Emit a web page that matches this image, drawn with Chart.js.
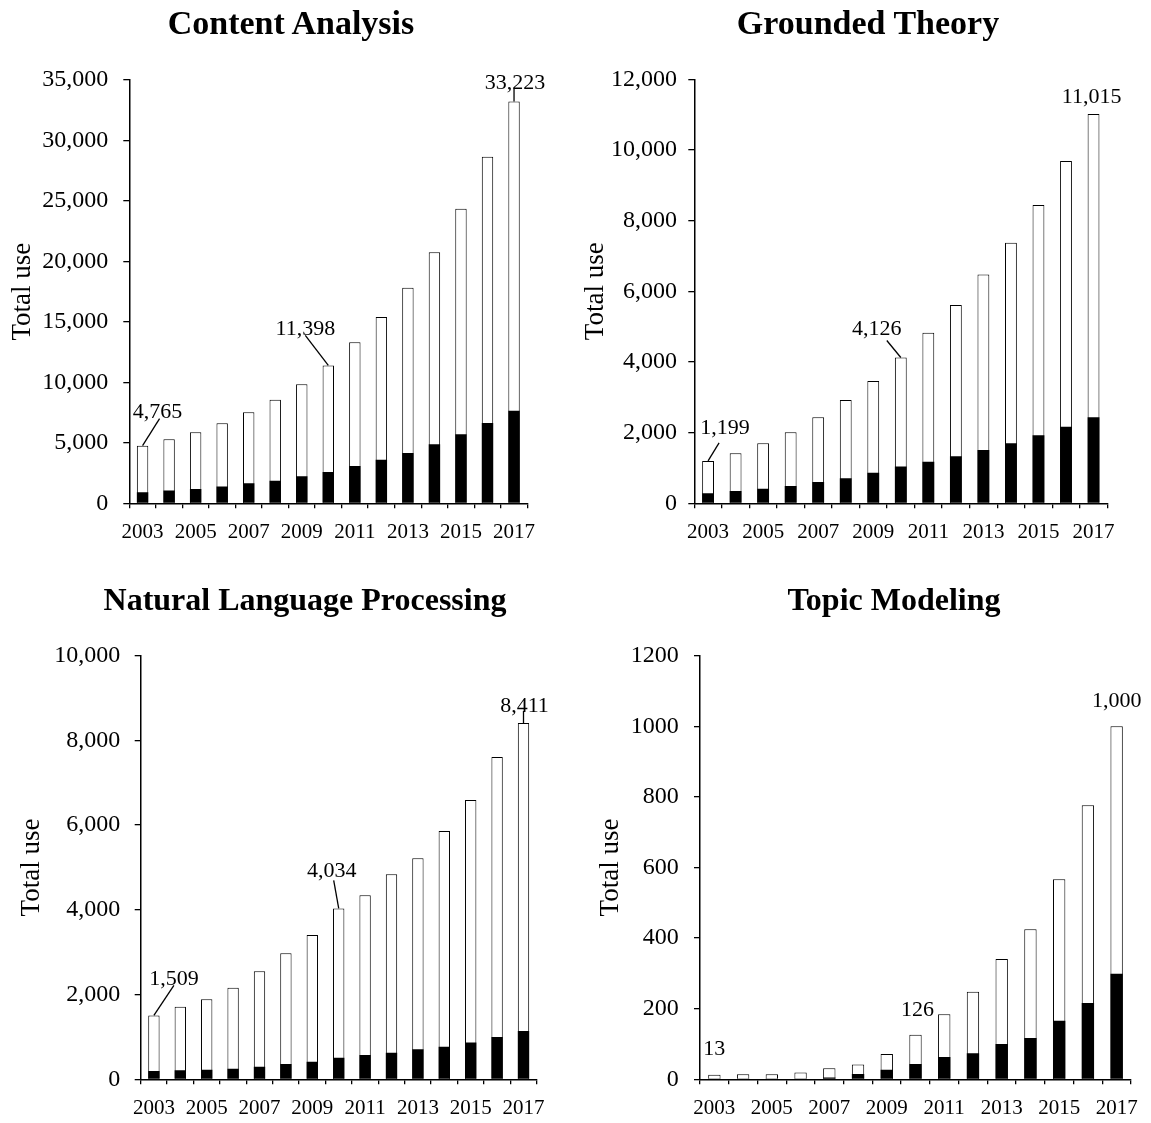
<!DOCTYPE html>
<html>
<head>
<meta charset="utf-8">
<script src="https://cdn.jsdelivr.net/npm/chart.js@4.4.1/dist/chart.umd.min.js"></script>
<style>
  html, body { margin: 0; padding: 0; background: #fff; }
  #page { position: relative; width: 1151px; height: 1123px; overflow: hidden; }
  canvas { position: absolute; }
  .title {
    position: absolute;
    font: bold 34px "Liberation Serif", "Times New Roman", serif;
    line-height: 34px;
    white-space: nowrap;
    transform: translateX(-50%);
    color: #000;
  }
  .title.low { font-size: 32px; line-height: 32px; }
</style>
</head>
<body>
<div id="page">
  <canvas id="caChart" width="575" height="565" style="left:0;top:0"></canvas>
  <canvas id="gtChart" width="576" height="565" style="left:575px;top:0"></canvas>
  <canvas id="nlpChart" width="575" height="558" style="left:0;top:565px"></canvas>
  <canvas id="tmChart" width="576" height="558" style="left:575px;top:565px"></canvas>
  <div class="title" style="left:291px;top:6px">Content Analysis</div>
  <div class="title" style="left:868px;top:6px">Grounded Theory</div>
  <div class="title low" style="left:305px;top:583px">Natural Language Processing</div>
  <div class="title low" style="left:894px;top:583px">Topic Modeling</div>
</div>
<script>
const years = ["2003", "2004", "2005", "2006", "2007", "2008", "2009", "2010",
  "2011", "2012", "2013", "2014", "2015", "2016", "2017"];

// Content Analysis
const caTotal = [4765, 5290, 5870, 6610, 7520, 8570, 9840, 11398, 13310, 15400, 17830, 20750, 24360, 28660, 33223];
const caSubset = [910, 1050, 1185, 1380, 1650, 1870, 2230, 2590, 3090, 3610, 4160, 4880, 5700, 6640, 7660];
const caTicks = ["0", "5,000", "10,000", "15,000", "20,000", "25,000", "30,000", "35,000"];

// Grounded Theory
const gtTotal = [1199, 1415, 1698, 2009, 2434, 2925, 3462, 4126, 4830, 5613, 6472, 7377, 8443, 9689, 11015];
const gtSubset = [283, 349, 410, 490, 600, 712, 866, 1038, 1179, 1330, 1509, 1698, 1925, 2170, 2434];
const gtTicks = ["0", "2,000", "4,000", "6,000", "8,000", "10,000", "12,000"];

// Natural Language Processing
const nlpTotal = [1509, 1715, 1888, 2164, 2549, 2974, 3407, 4034, 4343, 4839, 5216, 5861, 6593, 7608, 8411];
const nlpSubset = [197, 212, 228, 252, 299, 362, 416, 511, 574, 629, 708, 771, 870, 999, 1141];
const nlpTicks = ["0", "2,000", "4,000", "6,000", "8,000", "10,000"];

// Topic Modeling
const tmTotal = [13, 14, 14, 19, 31, 42, 72, 126, 184, 248, 341, 425, 567, 776, 1000];
const tmSubset = [1, 1, 1, 2, 5, 15, 27, 43, 63, 74, 100, 117, 166, 216, 299];
const tmTicks = ["0", "200", "400", "600", "800", "1000", "1200"];

const serif = '"Liberation Serif", "Times New Roman", serif';
Chart.defaults.font.family = serif;
Chart.defaults.color = "#000";

// value labels with leader lines, placed relative to the top of the total bar
const valueNotes = {
  id: "valueNotes",
  afterDatasetsDraw(chart, args, opts) {
    const { ctx } = chart;
    const x = chart.scales.x;
    const y = chart.scales.y;
    const totals = chart.data.datasets[1].data;
    ctx.save();
    ctx.font = "22px " + serif;
    ctx.fillStyle = "#000";
    ctx.strokeStyle = "#000";
    ctx.lineWidth = 1.3;
    ctx.textAlign = "center";
    ctx.textBaseline = "alphabetic";
    opts.notes.forEach(function (n) {
      const px = x.getPixelForValue(n.i);
      const py = y.getPixelForValue(totals[n.i]);
      if (n.lx !== undefined) {
        ctx.beginPath();
        ctx.moveTo(px, py);
        ctx.lineTo(px + n.lx, py + n.ly);
        ctx.stroke();
      }
      ctx.fillText(totals[n.i].toLocaleString("en-US"), px + n.tx, py + n.ty);
    });
    ctx.restore();
  }
};

function makeChart(id, cfg) {
  return new Chart(document.getElementById(id), {
    type: "bar",
    data: {
      labels: years,
      datasets: [
        {
          label: "Subset",
          data: cfg.subset,
          backgroundColor: "#000",
          borderWidth: 0,
          grouped: false,
          order: 0,
          barPercentage: 0.43,
          categoryPercentage: 1
        },
        {
          label: "Total use",
          data: cfg.total,
          backgroundColor: "#fff",
          borderColor: "#000",
          borderWidth: 1,
          grouped: false,
          order: 1,
          barPercentage: 0.43,
          categoryPercentage: 1
        }
      ]
    },
    options: {
      responsive: false,
      animation: false,
      layout: { padding: cfg.pad },
      plugins: {
        legend: { display: false },
        tooltip: { enabled: false },
        valueNotes: { notes: cfg.notes }
      },
      scales: {
        x: {
          offset: true,
          grid: { offset: true, drawOnChartArea: false, color: "#000", tickLength: 5, lineWidth: 1.3 },
          border: { color: "#000", width: 1.5 },
          ticks: {
            autoSkip: false,
            maxRotation: 0,
            padding: 12,
            font: { size: 21 },
            callback: function (v, i) { return i % 2 === 0 ? years[i] : ""; }
          },
          afterFit: function (s) { s.height = 40; }
        },
        y: {
          min: 0,
          max: cfg.max,
          grid: { drawOnChartArea: false, color: "#000", tickLength: 6, lineWidth: 1.3 },
          border: { color: "#000", width: 1.5 },
          ticks: {
            stepSize: cfg.step,
            padding: cfg.tickPad,
            font: { size: 24 },
            callback: function (v, i) { return cfg.ticks[i]; }
          },
          title: {
            display: true,
            text: "Total use",
            font: { size: 27 },
            padding: { top: cfg.titlePad, bottom: 0 }
          },
          afterFit: function (s) { s.width = cfg.axisW; }
        }
      }
    },
    plugins: [valueNotes]
  });
}

makeChart("caChart", {
  total: caTotal, subset: caSubset, ticks: caTicks, max: 35000, step: 5000,
  axisW: 129.3, titlePad: 7.1, tickPad: 15,
  pad: { left: 0, right: 47.7, top: 80, bottom: 21.7 },
  notes: [
    { i: 0, lx: 17, ly: -27, tx: 15, ty: -28 },
    { i: 7, lx: -23, ly: -30, tx: -23, ty: -30 },
    { i: 14, lx: 0, ly: -13, tx: 1, ty: -12 }
  ]
});

makeChart("gtChart", {
  total: gtTotal, subset: gtSubset, ticks: gtTicks, max: 12000, step: 2000,
  axisW: 119.3, titlePad: 4.8, tickPad: 11.4,
  pad: { left: 0, right: 43.7, top: 79.3, bottom: 21.7 },
  notes: [
    { i: 0, lx: 11, ly: -18, tx: 17, ty: -27 },
    { i: 7, lx: -14, ly: -17, tx: -24, ty: -23 },
    { i: 14, tx: -2, ty: -11 }
  ]
});

makeChart("nlpChart", {
  total: nlpTotal, subset: nlpSubset, ticks: nlpTicks, max: 10000, step: 2000,
  axisW: 140.7, titlePad: 16.1, tickPad: 14.5,
  pad: { left: 0, right: 38.3, top: 90.7, bottom: 3.7 },
  notes: [
    { i: 0, lx: 20, ly: -30, tx: 20, ty: -30 },
    { i: 7, lx: -5, ly: -28, tx: -7, ty: -31 },
    { i: 14, lx: 0, ly: -12, tx: 1, ty: -11 }
  ]
});

makeChart("tmChart", {
  total: tmTotal, subset: tmSubset, ticks: tmTicks, max: 1200, step: 200,
  axisW: 125, titlePad: 19.3, tickPad: 15.3,
  pad: { left: 0, right: 20, top: 90.7, bottom: 3.7 },
  notes: [
    { i: 0, tx: 0, ty: -20 },
    { i: 7, tx: 2, ty: -19 },
    { i: 14, tx: 0, ty: -19 }
  ]
});
</script>
</body>
</html>
